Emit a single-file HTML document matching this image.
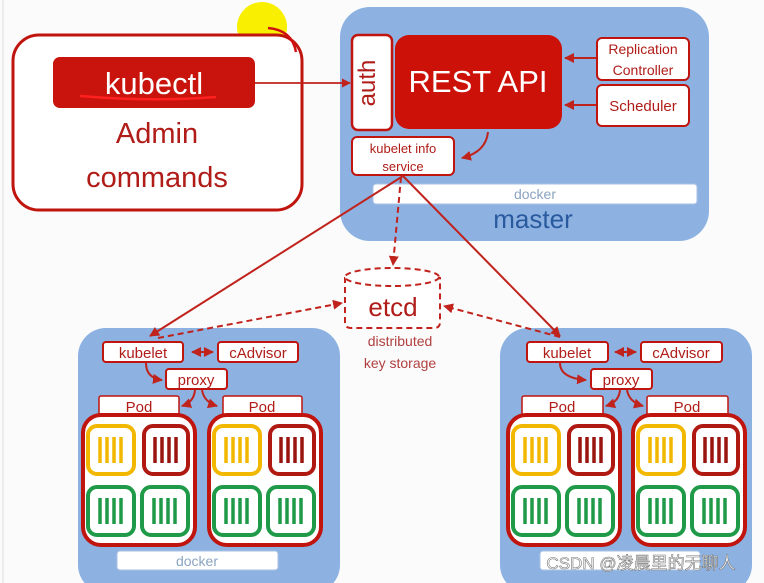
<!DOCTYPE html>
<html><head><meta charset="utf-8"><style>
html,body{margin:0;padding:0;background:#fbfbfb;}
svg{display:block;font-family:"Liberation Sans","Noto Sans CJK SC",sans-serif;}
</style></head><body>
<svg width="764" height="583" viewBox="0 0 764 583" xmlns="http://www.w3.org/2000/svg">
<defs>
<marker id="ar" viewBox="0 0 10 10" refX="9" refY="5" markerWidth="5" markerHeight="5" orient="auto-start-reverse"><path d="M0,0L10,5L0,10z" fill="#c0221c"/></marker>
<g id="cy"><rect x="0" y="0" width="46" height="48" rx="9" fill="#fff" stroke="#f2b800" stroke-width="4"/><g stroke="#f2b800" stroke-width="3.5"><line x1="12" y1="11" x2="12" y2="37"/><line x1="19" y1="11" x2="19" y2="37"/><line x1="26" y1="11" x2="26" y2="37"/><line x1="33" y1="11" x2="33" y2="37"/></g></g>
<g id="cr"><rect x="0" y="0" width="44" height="48" rx="9" fill="#fff" stroke="#b01812" stroke-width="4"/><g stroke="#9a1410" stroke-width="3.5"><line x1="11" y1="11" x2="11" y2="37"/><line x1="18" y1="11" x2="18" y2="37"/><line x1="25" y1="11" x2="25" y2="37"/><line x1="32" y1="11" x2="32" y2="37"/></g></g>
<g id="cg"><rect x="0" y="0" width="46" height="48" rx="9" fill="#fff" stroke="#1f9a48" stroke-width="4"/><g stroke="#1f9a48" stroke-width="3.5"><line x1="12" y1="11" x2="12" y2="37"/><line x1="19" y1="11" x2="19" y2="37"/><line x1="26" y1="11" x2="26" y2="37"/><line x1="33" y1="11" x2="33" y2="37"/></g></g>
<g id="pod"><rect x="0" y="0" width="112" height="130" rx="18" fill="#fff" stroke="#c0140e" stroke-width="4"/>
<use href="#cy" x="5" y="11"/><use href="#cr" x="61" y="11"/><use href="#cg" x="5" y="72"/><use href="#cg" x="59" y="72"/></g>
</defs>
<line x1="3" y1="0" x2="3" y2="583" stroke="#ddd" stroke-width="1"/>
<circle cx="262" cy="27" r="25" fill="#f8f000"/>
<!-- left admin box -->
<rect x="13" y="35" width="289" height="175" rx="26" fill="#fff" stroke="#c0140e" stroke-width="3"/>
<path d="M268,28 Q292,30 296,52" fill="none" stroke="#d01010" stroke-width="2.5"/>
<rect x="53" y="57" width="202" height="51" rx="7" fill="#c8140c"/>
<text x="154" y="94" text-anchor="middle" font-size="31" fill="#fff">kubectl</text>
<path d="M80,96 Q150,102 216,97" fill="none" stroke="#ff2020" stroke-width="2.5"/>
<text x="157" y="143" text-anchor="middle" font-size="29" fill="#b01c18">Admin</text>
<text x="157" y="187" text-anchor="middle" font-size="29" fill="#b01c18">commands</text>
<!-- master -->
<rect x="340" y="7" width="369" height="234" rx="30" fill="#8db2e2"/>
<line x1="255" y1="83" x2="350" y2="83" stroke="#c0221c" stroke-width="1.8" marker-end="url(#ar)"/>
<rect x="352" y="35" width="40" height="95" rx="6" fill="#fff" stroke="#c0140e" stroke-width="2.5"/>
<text x="381" y="83" text-anchor="middle" font-size="24" fill="#b01c18" transform="rotate(-90 381 83)" dy="-6">auth</text>
<rect x="395" y="35" width="167" height="94" rx="14" fill="#cc1108"/>
<text x="478" y="92" text-anchor="middle" font-size="31" fill="#fff">REST API</text>
<rect x="597" y="38" width="92" height="42" rx="5" fill="#fff" stroke="#c0140e" stroke-width="2"/>
<text x="643" y="54" text-anchor="middle" font-size="14" fill="#b01c18">Replication</text>
<text x="643" y="75" text-anchor="middle" font-size="14" fill="#b01c18">Controller</text>
<rect x="597" y="85" width="92" height="41" rx="5" fill="#fff" stroke="#c0140e" stroke-width="2"/>
<text x="643" y="111" text-anchor="middle" font-size="15" fill="#b01c18">Scheduler</text>
<line x1="596" y1="58" x2="565" y2="58" stroke="#c0221c" stroke-width="2" marker-end="url(#ar)"/>
<line x1="596" y1="105" x2="565" y2="105" stroke="#c0221c" stroke-width="2" marker-end="url(#ar)"/>
<rect x="352" y="137" width="102" height="38" rx="5" fill="#fff" stroke="#c0140e" stroke-width="2"/>
<text x="403" y="153" text-anchor="middle" font-size="13" fill="#b01c18">kubelet info</text>
<text x="403" y="171" text-anchor="middle" font-size="13" fill="#b01c18">service</text>
<path d="M488,132 Q486,152 462,158" fill="none" stroke="#c0221c" stroke-width="2" marker-end="url(#ar)"/>
<rect x="373" y="184" width="324" height="20" rx="3" fill="#fff" stroke="#a9c2e6" stroke-width="1"/>
<text x="535" y="199" text-anchor="middle" font-size="14" fill="#8aa4c0">docker</text>
<text x="533" y="228" text-anchor="middle" font-size="26" fill="#2a5a9e">master</text>
<!-- nodes -->
<rect x="78" y="328" width="262" height="265" rx="28" fill="#8db2e2"/>
<rect x="500" y="328" width="252" height="265" rx="28" fill="#8db2e2"/>
<!-- connectors -->
<line x1="403" y1="176" x2="150" y2="336" stroke="#c0221c" stroke-width="2" marker-end="url(#ar)"/>
<line x1="403" y1="176" x2="560" y2="336" stroke="#c0221c" stroke-width="2" marker-end="url(#ar)"/>
<line x1="401" y1="177" x2="393" y2="265" stroke="#c0221c" stroke-width="2" stroke-dasharray="6,4" marker-end="url(#ar)"/>
<line x1="158" y1="338" x2="342" y2="303" stroke="#c0221c" stroke-width="2" stroke-dasharray="6,4" marker-end="url(#ar)"/>
<line x1="560" y1="337" x2="444" y2="306" stroke="#c0221c" stroke-width="2" stroke-dasharray="6,4" marker-end="url(#ar)"/>
<!-- etcd -->
<path d="M345,277 L345,322 Q345,328 351,328 L434,328 Q440,328 440,322 L440,277" fill="#fff" stroke="#c0221c" stroke-width="2" stroke-dasharray="6,4"/>
<ellipse cx="392" cy="277" rx="47" ry="9" fill="#fff" stroke="#c0221c" stroke-width="2" stroke-dasharray="6,4"/>
<text x="393" y="316" text-anchor="middle" font-size="26" fill="#b01c18">etcd</text>
<text x="400" y="346" text-anchor="middle" font-size="14" fill="#b04040">distributed</text>
<text x="400" y="368" text-anchor="middle" font-size="14" fill="#b04040">key storage</text>
<!-- left node contents -->
<rect x="103" y="342" width="80" height="20" rx="3" fill="#fff" stroke="#c0140e" stroke-width="2"/>
<text x="143" y="358" text-anchor="middle" font-size="15" fill="#b01c18">kubelet</text>
<rect x="218" y="342" width="80" height="20" rx="3" fill="#fff" stroke="#c0140e" stroke-width="2"/>
<text x="258" y="358" text-anchor="middle" font-size="15" fill="#b01c18">cAdvisor</text>
<line x1="192" y1="352" x2="213" y2="352" stroke="#c0221c" stroke-width="2" marker-start="url(#ar)" marker-end="url(#ar)"/>
<rect x="166" y="369" width="61" height="20" rx="3" fill="#fff" stroke="#c0140e" stroke-width="2"/>
<text x="196" y="385" text-anchor="middle" font-size="15" fill="#b01c18">proxy</text>
<path d="M146,363 Q146,378 162,380" fill="none" stroke="#c0221c" stroke-width="2" marker-end="url(#ar)"/>
<path d="M195,390 Q194,402 182,406" fill="none" stroke="#c0221c" stroke-width="2" marker-end="url(#ar)"/>
<path d="M202,390 Q204,402 217,406" fill="none" stroke="#c0221c" stroke-width="2" marker-end="url(#ar)"/>
<rect x="99" y="396" width="80" height="20" rx="2" fill="#fff" stroke="#c0140e" stroke-width="1.5"/>
<text x="139" y="412" text-anchor="middle" font-size="15" fill="#b01c18">Pod</text>
<rect x="223" y="396" width="79" height="20" rx="2" fill="#fff" stroke="#c0140e" stroke-width="1.5"/>
<text x="262" y="412" text-anchor="middle" font-size="15" fill="#b01c18">Pod</text>
<use href="#pod" x="83" y="415"/><use href="#pod" x="209" y="415"/>
<rect x="117" y="551" width="161" height="19" rx="3" fill="#fff" stroke="#a9c2e6"/>
<text x="197" y="566" text-anchor="middle" font-size="14" fill="#8aa4c0">docker</text>
<!-- right node contents -->
<rect x="527" y="342" width="81" height="20" rx="3" fill="#fff" stroke="#c0140e" stroke-width="2"/>
<text x="567" y="358" text-anchor="middle" font-size="15" fill="#b01c18">kubelet</text>
<rect x="641" y="342" width="81" height="20" rx="3" fill="#fff" stroke="#c0140e" stroke-width="2"/>
<text x="681" y="358" text-anchor="middle" font-size="15" fill="#b01c18">cAdvisor</text>
<line x1="615" y1="352" x2="636" y2="352" stroke="#c0221c" stroke-width="2" marker-start="url(#ar)" marker-end="url(#ar)"/>
<rect x="591" y="369" width="61" height="20" rx="3" fill="#fff" stroke="#c0140e" stroke-width="2"/>
<text x="621" y="385" text-anchor="middle" font-size="15" fill="#b01c18">proxy</text>
<path d="M560,363 Q560,378 586,380" fill="none" stroke="#c0221c" stroke-width="2" marker-end="url(#ar)"/>
<path d="M620,390 Q619,402 606,406" fill="none" stroke="#c0221c" stroke-width="2" marker-end="url(#ar)"/>
<path d="M627,390 Q629,402 643,406" fill="none" stroke="#c0221c" stroke-width="2" marker-end="url(#ar)"/>
<rect x="522" y="396" width="81" height="20" rx="2" fill="#fff" stroke="#c0140e" stroke-width="1.5"/>
<text x="562" y="412" text-anchor="middle" font-size="15" fill="#b01c18">Pod</text>
<rect x="647" y="396" width="81" height="20" rx="2" fill="#fff" stroke="#c0140e" stroke-width="1.5"/>
<text x="687" y="412" text-anchor="middle" font-size="15" fill="#b01c18">Pod</text>
<use href="#pod" x="508" y="415"/><use href="#pod" x="633" y="415"/>
<rect x="540" y="551" width="160" height="19" rx="3" fill="#fff" stroke="#a9c2e6"/>
<text x="641" y="569" text-anchor="middle" font-size="17" fill="#fff" stroke="#777" stroke-width="0.6">CSDN @凌晨里的无聊人</text>
</svg>
</body></html>
